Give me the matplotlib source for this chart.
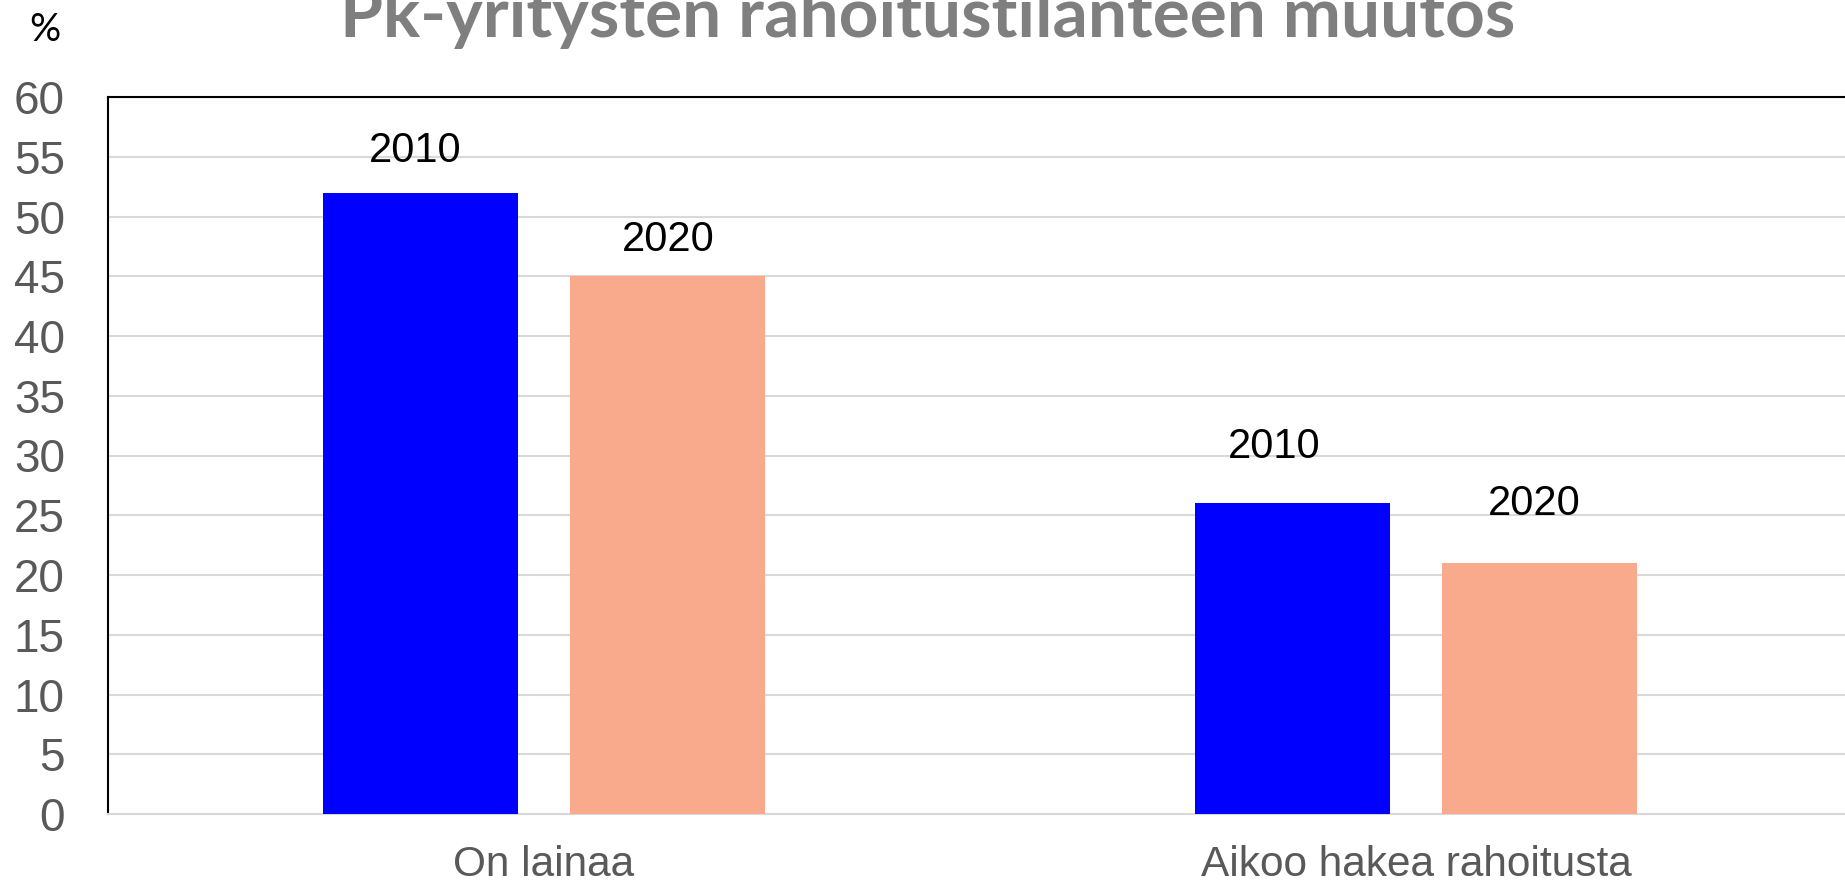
import matplotlib
matplotlib.use("Agg")
import matplotlib.pyplot as plt
import numpy as np

categories = ["On lainaa", "Aikoo hakea rahoitusta"]
years = ["2010", "2020"]
values_2010 = [52, 26]
values_2020 = [45, 21]
yticks = list(range(0, 61, 5))
title = "Pk-yritysten rahoitustilanteen muutos"

plt.rcParams['font.family'] = ['Liberation Sans', 'DejaVu Sans']

W, H = 1845, 884
fig = plt.figure(figsize=(W / 100, H / 100), dpi=100)
left, right, top, bottom = 108, 1852, 97, 814
ax = fig.add_axes([left / W, 1 - bottom / H, (right - left) / W, (bottom - top) / H])

x = np.arange(len(categories))
bw = 0.224
off = 0.142
series = [(values_2010, "#0000ff", -off), (values_2020, "#f9a98c", off)]
# label offsets in pixels (dx, dy) per series per category
label_offsets = [[(-5, 42), (-18, 56)], [(0, 36), (-6, 59)]]
for s, ((vals, col, dx), yr) in enumerate(zip(series, years)):
    bars = ax.bar(x + dx, vals, width=bw, color=col, zorder=3)
    for i, b in enumerate(bars):
        ox, oy = label_offsets[s][i]
        ax.annotate(yr, (b.get_x() + b.get_width() / 2, b.get_height()),
                    xytext=(ox, oy), textcoords='offset pixels',
                    ha='center', va='center', fontsize=30, color='black')

ax.set_xlim(-0.5, 1.5)
ax.set_ylim(0, 60)
ax.set_yticks(yticks)
ax.set_yticklabels([str(t) for t in yticks])
ax.set_xticks(x)
ax.set_xticklabels(categories)
ax.tick_params(axis='y', length=0, pad=31, labelsize=33, labelcolor='#595959')
ax.tick_params(axis='x', length=0, pad=22, labelsize=30.5, labelcolor='#595959')
ax.grid(axis='y', color='#d9d9d9', linewidth=1.5, zorder=0)
ax.set_axisbelow(True)
ax.spines['right'].set_visible(False)
ax.spines['top'].set_color('black')
ax.spines['top'].set_linewidth(1.5)
ax.spines['left'].set_color('black')
ax.spines['left'].set_linewidth(1.5)
ax.spines['bottom'].set_color('#d9d9d9')
ax.spines['bottom'].set_linewidth(1.5)

t = fig.text(928 / W, 1 - 37 / H, title, ha='center', va='baseline',
             fontsize=44, fontweight='bold', color='#7f7f7f',
             family=['Lato', 'DejaVu Sans'])
fig.canvas.draw()
wpx = t.get_window_extent().width
t.set_fontsize(44 * 1173 / wpx)

fig.text(45 / W, 1 - 30 / H, "%", ha='center', va='center', fontsize=28, color='black',
         family=['Lato', 'DejaVu Sans'])

fig.savefig("out.png", dpi=100)
